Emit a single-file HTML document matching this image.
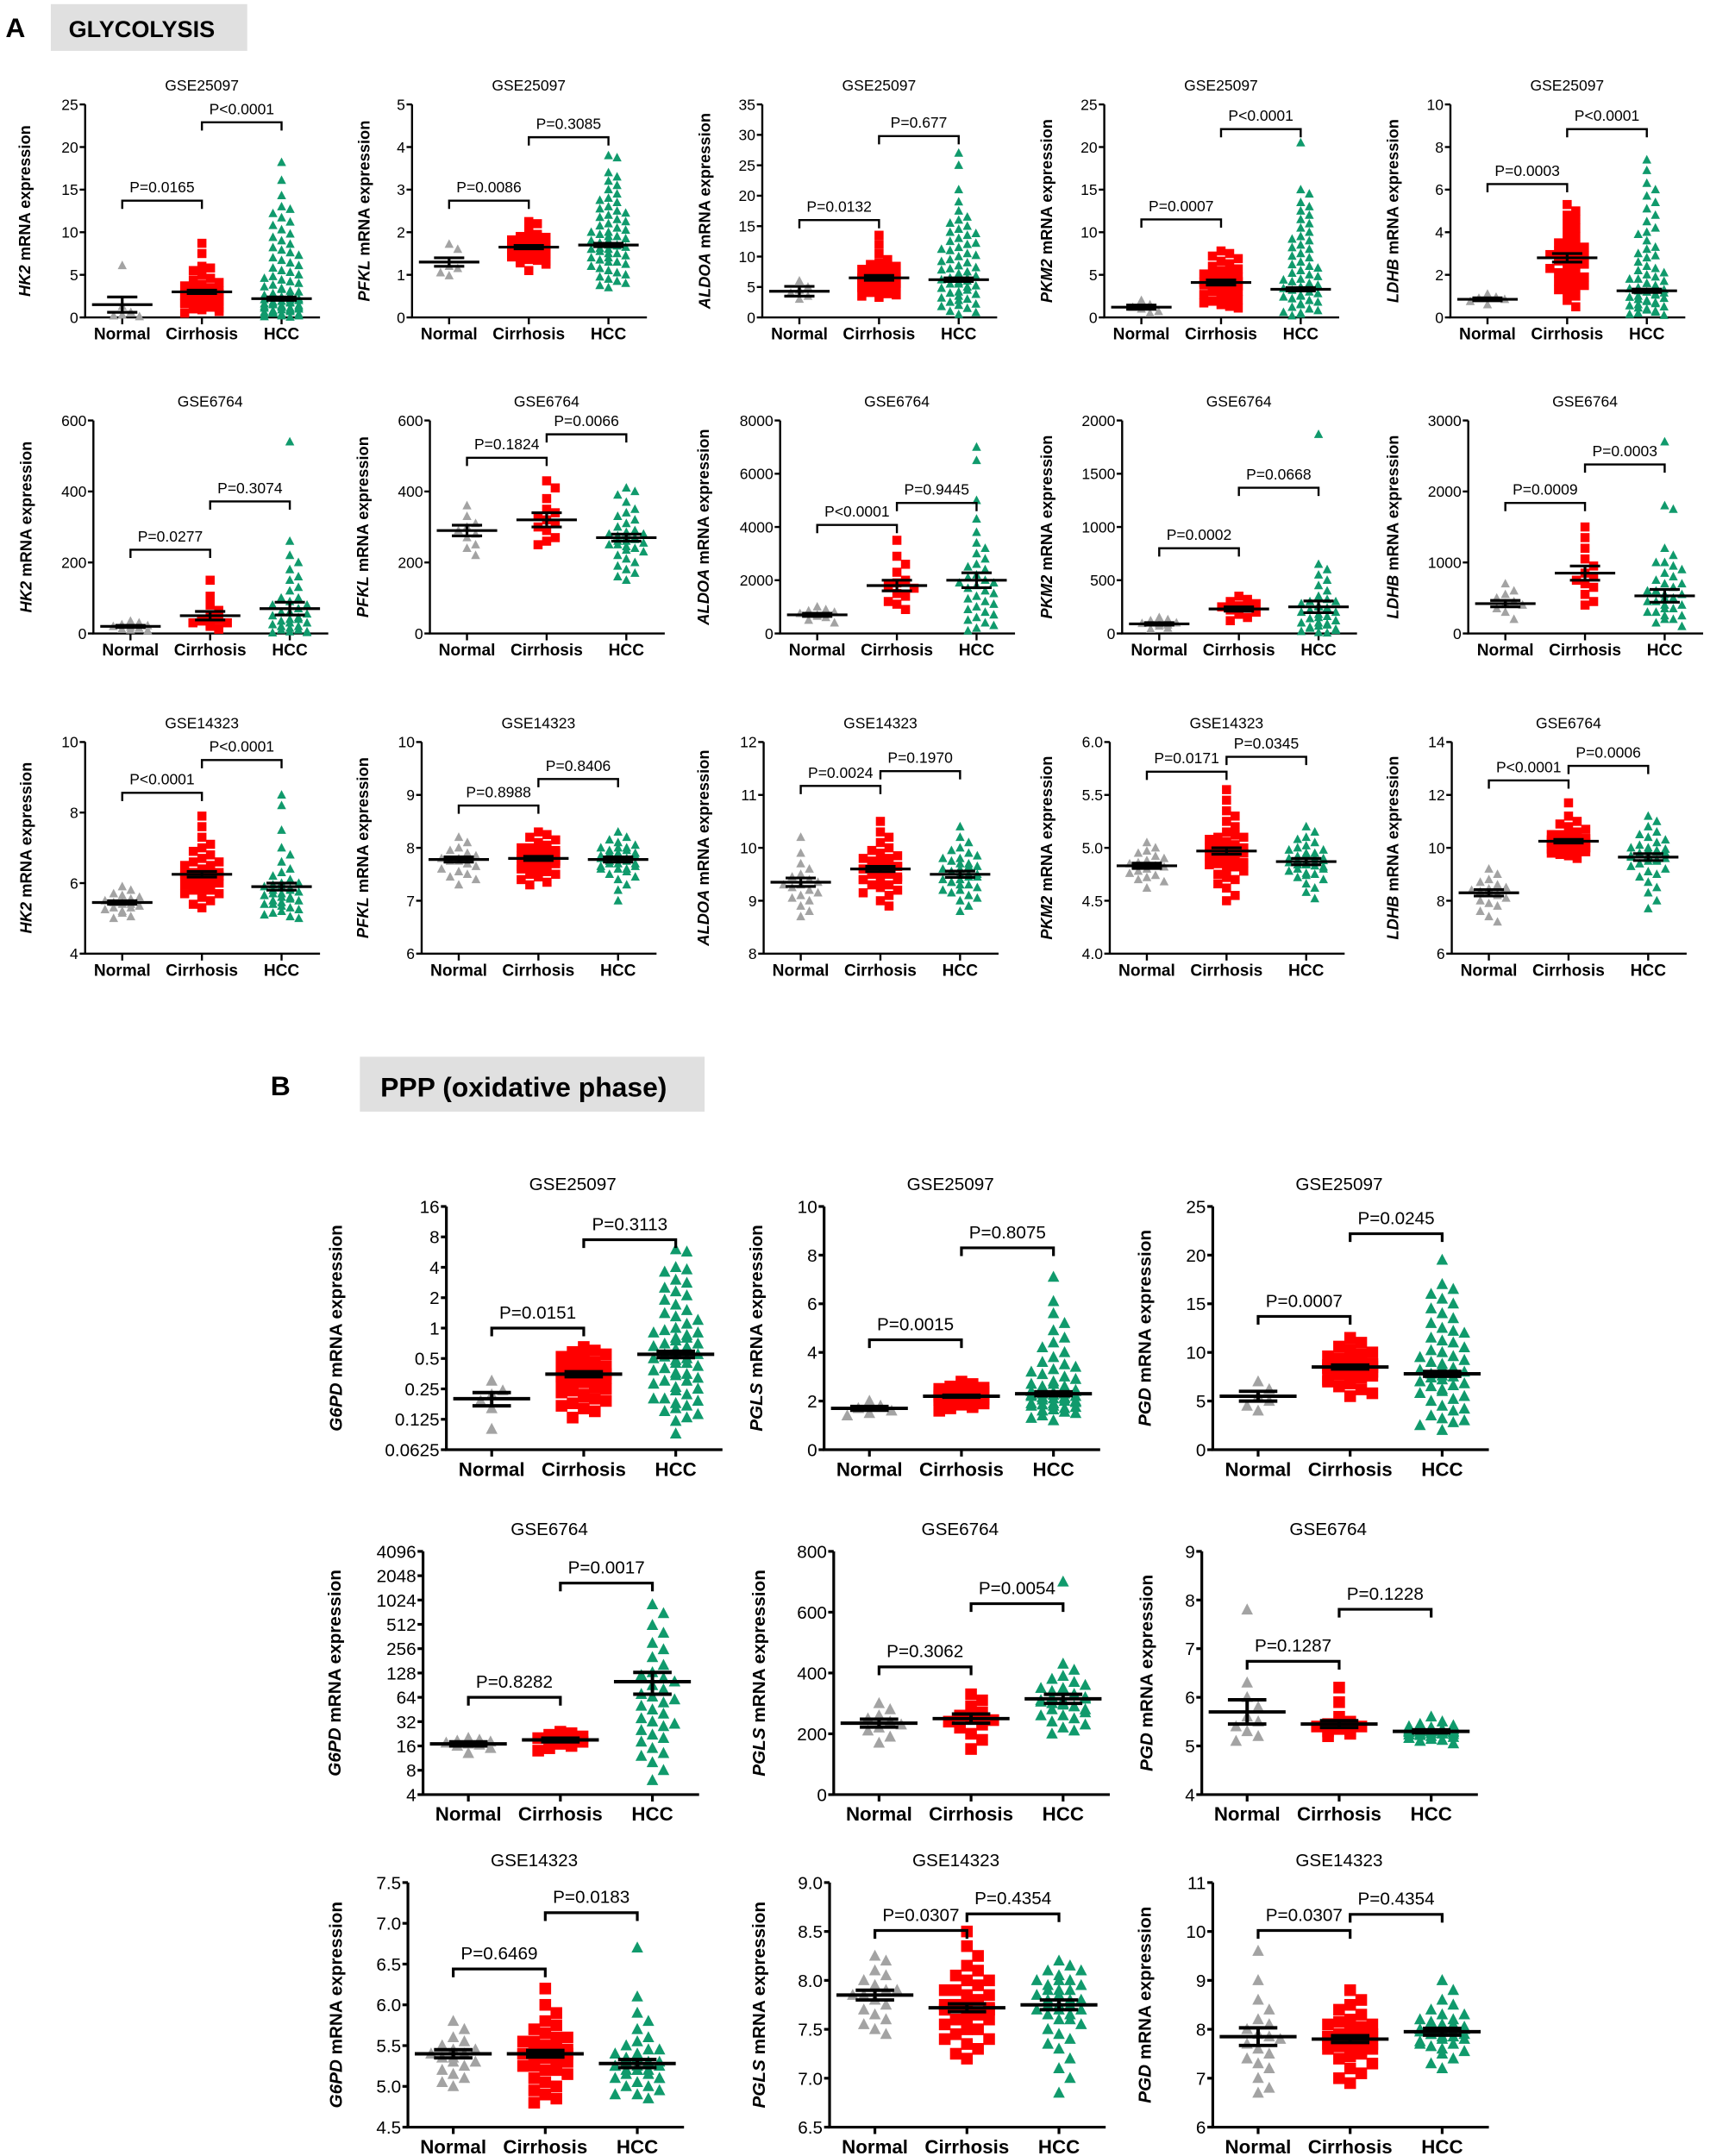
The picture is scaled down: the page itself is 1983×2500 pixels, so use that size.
<!DOCTYPE html>
<html><head><meta charset="utf-8">
<style>
html,body{margin:0;padding:0;background:#fff;}
svg{display:block;font-family:"Liberation Sans",Arial,sans-serif;}
</style></head>
<body>
<svg id="fig" width="1983" height="2500" viewBox="0 0 1245 1569" preserveAspectRatio="none" xmlns="http://www.w3.org/2000/svg">
<rect x="0" y="0" width="1245" height="1569" fill="#fff"/>
<text x="4" y="27" font-size="20" font-weight="bold">A</text>
<rect x="37" y="3" width="143" height="34" fill="#e0e0e0"/>
<text x="50" y="27" font-size="17" font-weight="bold">GLYCOLYSIS</text>
<text x="197" y="797" font-size="20" font-weight="bold">B</text>
<rect x="262" y="769" width="251" height="40" fill="#e0e0e0"/>
<text x="277" y="798" font-size="20" font-weight="bold">PPP (oxidative phase)</text>
<g id="charts"></g>
</svg>
<script>
const categories=["Normal","Cirrhosis","HCC"];
// ---- A row 1 GSE25097
const p1_normal=[6.1,1.3,0.6,0.3,0.2,0.1];
const p1_cirrhosis=[8.7,7.5,6.0,5.8,5.5,5.0,4.6,4.4,4.1,3.9,3.7,3.5,3.4,3.3,3.2,3.1,3.0,2.9,2.8,2.7,2.6,2.5,2.4,2.3,2.2,2.1,2.0,1.9,1.8,1.7,1.6,1.5,1.4,1.3,1.2,1.1,1.0,0.9,0.7,0.5];
const p1_hcc=[18.2,16.1,14.3,13.0,12.7,12.2,11.7,11.2,10.8,10.3,9.8,9.4,9.0,8.6,8.2,7.9,7.6,7.3,7.0,6.7,6.4,6.1,5.8,5.5,5.3,5.0,4.8,4.6,4.4,4.2,4.0,3.8,3.6,3.4,3.3,3.1,3.0,2.8,2.7,2.6,2.5,2.4,2.3,2.2,2.1,2.0,1.9,1.8,1.7,1.6,1.5,1.4,1.3,1.2,1.1,1.0,0.9,0.8,0.7,0.6,0.5,0.4,0.3,0.2,0.1,0.05,0.6,1.1,1.6,2.1,0.3,0.8,1.3,1.8,0.2,0.7,1.2,0.4,0.9,1.4];
const p1_mean=[1.5,3.0,2.2], p1_sem=[0.9,0.2,0.2];
const p1_ticks=["0","5","10","15","20","25"];
const p1_pvals=["P=0.0165","P<0.0001"], p1_pheight=[13.7,22.9];

const p2_normal=[1.72,1.6,1.2,1.15,1.05,0.98];
const p2_cirrhosis=[2.25,2.2,2.05,1.95,1.9,1.88,1.85,1.82,1.8,1.78,1.75,1.72,1.7,1.68,1.66,1.65,1.63,1.62,1.6,1.58,1.56,1.55,1.53,1.5,1.48,1.46,1.44,1.42,1.4,1.38,1.36,1.34,1.32,1.3,1.28,1.25,1.1,1.7,1.6,1.5];
const p2_hcc=[3.8,3.75,3.4,3.3,3.2,3.1,3.0,2.9,2.8,2.75,2.7,2.6,2.55,2.5,2.45,2.4,2.35,2.3,2.25,2.2,2.15,2.1,2.05,2.0,1.95,1.9,1.85,1.8,1.75,1.7,1.68,1.65,1.62,1.6,1.55,1.5,1.45,1.4,1.35,1.3,1.25,1.2,1.15,1.1,1.05,1.0,0.95,0.9,0.85,0.8,0.75,0.7,1.7,1.6,1.5,1.4,1.9,2.0,1.8,1.3];
const p2_mean=[1.3,1.65,1.7], p2_sem=[0.1,0.04,0.04];
const p2_ticks=["0","1","2","3","4","5"];
const p2_pvals=["P=0.0086","P=0.3085"], p2_pheight=[2.74,4.23];

const p3_normal=[6,5,4.5,4,3.5,3];
const p3_cirrhosis=[13.5,12,10.5,9.5,9,8.7,8.4,8.1,7.9,7.7,7.5,7.3,7.1,6.9,6.7,6.5,6.3,6.1,5.9,5.7,5.5,5.3,5.1,4.9,4.7,4.5,4.3,4.1,3.9,3.7,3.5,3.3,6.6,6.2,5.8,7.0,6.4,5.6,5.0,4.4];
const p3_hcc=[27,25,21,19,17.5,16.5,16,15,14.5,14,13.5,13,12.5,12,11.5,11,10.5,10,9.5,9,8.5,8,7.5,7,6.5,6,5.5,5,4.5,4,3.5,3,2.5,2,1.5,1,0.5,6.2,5.8,5.2,4.8,7.2,6.8,8.2,7.8,3.2,3.8,2.8,2.2,9.2,10.2,1.8,5.5,6.5,4.2,12.2,11.2,0.8,13.8,15.5];
const p3_mean=[4.3,6.5,6.2], p3_sem=[0.8,0.4,0.3];
const p3_ticks=["0","5","10","15","20","25","30","35"];
const p3_pvals=["P=0.0132","P=0.677"], p3_pheight=[16,29.8];

const p4_normal=[2.0,1.5,1.2,1.0,0.7,0.5];
const p4_cirrhosis=[7.8,7.5,7.2,6.9,6.6,6.3,6.0,5.7,5.5,5.3,5.1,4.9,4.7,4.5,4.3,4.1,3.9,3.7,3.5,3.3,3.1,2.9,2.7,2.5,2.3,2.1,1.9,1.7,1.5,1.3,1.1,4.0,4.2,3.8,4.4,3.6,4.6,3.4,5.0,3.0];
const p4_hcc=[20.5,15,14.5,13.5,13,12.5,12,11.5,11,10.5,10,9.5,9,8.5,8,7.5,7,6.5,6,5.5,5,4.5,4,3.5,3,2.5,2,1.5,1,0.5,0.2,3.2,2.8,3.8,4.2,2.2,1.8,5.2,4.8,6.2,1.2,0.8,2.6,3.4,7.2,0.4,1.6,2.4,3.6,4.4,5.8,8.2,9.2,0.6];
const p4_mean=[1.2,4.1,3.3], p4_sem=[0.25,0.3,0.2];
const p4_ticks=["0","5","10","15","20","25"];
const p4_pvals=["P=0.0007","P<0.0001"], p4_pheight=[11.5,22.1];

const p5_normal=[1.1,0.95,0.9,0.85,0.75,0.6];
const p5_cirrhosis=[5.3,5.0,4.8,4.6,4.4,4.2,4.0,3.8,3.6,3.4,3.3,3.2,3.1,3.0,2.9,2.8,2.7,2.6,2.5,2.4,2.3,2.2,2.1,2.0,1.9,1.8,1.7,1.6,1.5,1.4,1.3,1.2,1.0,0.8,0.5,2.85,2.75,2.95,2.65,3.5];
const p5_hcc=[7.4,6.9,6.3,6.0,5.7,5.4,5.1,4.8,4.5,4.2,3.9,3.6,3.3,3.0,2.8,2.6,2.4,2.2,2.0,1.9,1.8,1.7,1.6,1.5,1.4,1.3,1.2,1.1,1.0,0.9,0.8,0.7,0.6,0.5,0.4,0.3,0.2,0.1,1.25,1.15,1.05,0.95,0.85,0.75,1.35,1.45,0.65,0.55,2.3,2.1,1.8,0.45,0.35,3.2,2.9,4.0,0.25,0.15,1.6,1.2];
const p5_mean=[0.85,2.8,1.25], p5_sem=[0.07,0.2,0.08];
const p5_ticks=["0","2","4","6","8","10"];
const p5_pvals=["P=0.0003","P<0.0001"], p5_pheight=[6.26,8.84];
// ---- A row 2 GSE6764
const p6_normal=[35,30,25,22,20,18,15,12,10,8];
const p6_cirrhosis=[150,105,80,65,50,40,35,30,25,20,15,12,30];
const p6_hcc=[540,260,220,200,180,160,150,130,120,100,90,80,70,60,55,50,45,40,35,30,25,20,15,10,5,2,60,40,30,20,10,5,3,80,100];
const p6_mean=[20,50,70], p6_sem=[3,12,18];
const p6_ticks=["0","200","400","600"];
const p6_pvals=["P=0.0277","P=0.3074"], p6_pheight=[236,372];

const p7_normal=[360,330,310,300,290,280,270,250,240,220];
const p7_cirrhosis=[430,410,380,350,340,330,320,310,300,290,270,260,250];
const p7_hcc=[410,400,390,370,350,340,330,320,310,300,290,285,280,275,270,265,260,255,250,245,240,235,230,220,210,200,190,180,170,160,150,260,270,250,280];
const p7_mean=[290,320,270], p7_sem=[15,20,10];
const p7_ticks=["0","200","400","600"];
const p7_pvals=["P=0.1824","P=0.0066"], p7_pheight=[495,561];

const p8_normal=[1000,900,850,800,750,700,650,600,500,400];
const p8_cirrhosis=[3500,2900,2600,2300,2000,1900,1800,1700,1500,1400,1200,1100,900];
const p8_hcc=[7000,6500,5000,4300,3800,3400,3200,3000,2800,2600,2400,2200,2000,1900,1800,1700,1600,1500,1400,1300,1200,1100,1000,900,800,700,600,500,400,300,200,100,2100,2500,1900];
const p8_mean=[700,1800,2000], p8_sem=[60,200,280];
const p8_ticks=["0","2000","4000","6000","8000"];
const p8_pvals=["P<0.0001","P=0.9445"], p8_pheight=[4077,4903];

const p9_normal=[150,130,120,100,95,90,80,70,50,40];
const p9_cirrhosis=[350,320,300,280,260,250,240,230,220,200,180,150,120];
const p9_hcc=[1870,650,600,550,500,450,400,350,320,300,280,260,240,220,200,180,160,140,120,100,80,60,40,20,10,5,250,200,150,100,50,300,30,70,90];
const p9_mean=[90,230,250], p9_sem=[12,20,55];
const p9_ticks=["0","500","1000","1500","2000"];
const p9_pvals=["P=0.0002","P=0.0668"], p9_pheight=[800,1368];

const p10_normal=[700,600,550,500,450,420,400,350,300,200];
const p10_cirrhosis=[1500,1350,1200,1050,950,850,800,750,700,650,550,450,400];
const p10_hcc=[2700,1800,1750,1200,1100,1000,950,900,850,800,750,700,650,600,550,500,450,400,350,300,250,200,150,100,500,450,400,350,300,550,600,250,200,700,1000];
const p10_mean=[420,850,530], p10_sem=[45,100,90];
const p10_ticks=["0","1000","2000","3000"];
const p10_pvals=["P=0.0009","P=0.0003"], p10_pheight=[1839,2381];
// ---- A row 3
const p11_normal=[5.9,5.8,5.7,5.65,5.6,5.55,5.5,5.45,5.45,5.4,5.4,5.35,5.3,5.3,5.25,5.2,5.15,5.05,5.0];
const p11_cirrhosis=[7.9,7.6,7.3,7.1,7.0,6.9,6.8,6.7,6.6,6.5,6.5,6.4,6.4,6.3,6.3,6.25,6.2,6.2,6.15,6.1,6.1,6.05,6.0,6.0,5.95,5.9,5.9,5.85,5.8,5.8,5.7,5.7,5.6,5.6,5.5,5.4,5.3,6.3,6.2,6.4,6.6];
const p11_hcc=[8.5,8.2,7.5,7.0,6.8,6.6,6.4,6.3,6.2,6.1,6.0,5.95,5.9,5.85,5.8,5.75,5.7,5.65,5.6,5.55,5.5,5.45,5.4,5.35,5.3,5.25,5.2,5.15,5.1,5.05,5.0,5.9,5.8,5.7,6.0,5.6,5.5,5.4];
const p11_mean=[5.45,6.25,5.9], p11_sem=[0.05,0.08,0.1];
const p11_ticks=["4","6","8","10"];
const p11_pvals=["P<0.0001","P<0.0001"], p11_pheight=[8.56,9.49];

const p12_normal=[8.2,8.1,8.0,7.95,7.9,7.85,7.8,7.8,7.75,7.75,7.7,7.7,7.65,7.6,7.55,7.5,7.45,7.4,7.3];
const p12_cirrhosis=[8.3,8.25,8.2,8.15,8.1,8.05,8.0,8.0,7.95,7.9,7.9,7.85,7.85,7.8,7.8,7.8,7.75,7.75,7.7,7.7,7.65,7.65,7.6,7.6,7.55,7.5,7.5,7.45,7.4,7.35,7.3,7.8,7.9,7.7,7.85,7.75,8.0,7.6,7.95,7.65,7.8];
const p12_hcc=[8.3,8.2,8.15,8.1,8.05,8.0,8.0,7.95,7.9,7.9,7.85,7.85,7.8,7.8,7.8,7.75,7.75,7.7,7.7,7.65,7.6,7.6,7.55,7.5,7.45,7.4,7.3,7.2,7.0,7.8,7.9,7.7,7.85,7.75,8.0,7.6,7.95,7.65];
const p12_mean=[7.78,7.8,7.78], p12_sem=[0.05,0.04,0.05];
const p12_ticks=["6","7","8","9","10"];
const p12_pvals=["P=0.8988","P=0.8406"], p12_pheight=[8.8,9.3];

const p13_normal=[10.2,9.9,9.7,9.6,9.5,9.45,9.4,9.35,9.3,9.3,9.25,9.2,9.15,9.1,9.05,9.0,8.9,8.8,8.7];
const p13_cirrhosis=[10.5,10.3,10.2,10.1,10.0,9.95,9.9,9.85,9.8,9.75,9.7,9.7,9.65,9.6,9.6,9.55,9.55,9.5,9.5,9.45,9.4,9.4,9.35,9.3,9.25,9.2,9.15,9.1,9.0,8.9,9.6,9.7,9.5,9.65,9.55,9.8,9.4,9.75,9.6,9.5,9.3];
const p13_hcc=[10.4,10.2,10.1,10.0,9.95,9.9,9.85,9.8,9.75,9.7,9.65,9.6,9.55,9.5,9.5,9.45,9.4,9.35,9.3,9.25,9.2,9.15,9.1,9.05,9.0,8.9,8.8,9.5,9.6,9.4,9.55,9.45,9.7,9.3,9.65,9.35,9.8,9.2];
const p13_mean=[9.35,9.6,9.5], p13_sem=[0.08,0.05,0.06];
const p13_ticks=["8","9","10","11","12"];
const p13_pvals=["P=0.0024","P=0.1970"], p13_pheight=[11.17,11.45];

const p14_normal=[5.05,5.0,4.97,4.95,4.92,4.9,4.88,4.86,4.85,4.83,4.82,4.8,4.78,4.76,4.74,4.72,4.7,4.68,4.62];
const p14_cirrhosis=[5.55,5.45,5.35,5.3,5.25,5.2,5.15,5.12,5.1,5.08,5.05,5.02,5.0,4.98,4.96,4.95,4.93,4.9,4.88,4.86,4.84,4.82,4.8,4.78,4.75,4.72,4.7,4.66,4.62,4.55,4.5,5.0,4.97,5.03,4.95,4.92,5.06,4.9,5.1,4.85,5.0];
const p14_hcc=[5.2,5.15,5.1,5.08,5.05,5.02,5.0,4.98,4.95,4.93,4.9,4.9,4.88,4.87,4.86,4.85,4.84,4.83,4.82,4.8,4.78,4.76,4.74,4.72,4.7,4.66,4.62,4.58,4.52,4.88,4.9,4.86,4.92,4.84,4.95,4.8,4.98,4.75];
const p14_mean=[4.83,4.97,4.87], p14_sem=[0.025,0.03,0.03];
const p14_ticks=["4.0","4.5","5.0","5.5","6.0"];
const p14_pvals=["P=0.0171","P=0.0345"], p14_pheight=[5.72,5.86];

const p15_normal=[9.2,9.0,8.8,8.7,8.6,8.5,8.45,8.4,8.35,8.3,8.25,8.2,8.1,8.0,7.9,7.8,7.6,7.4,7.2];
const p15_cirrhosis=[11.7,11.2,11.0,10.9,10.8,10.7,10.6,10.5,10.5,10.4,10.4,10.35,10.3,10.3,10.25,10.2,10.2,10.15,10.1,10.1,10.05,10.0,10.0,9.95,9.9,9.9,9.85,9.8,9.75,9.7,9.6,10.3,10.2,10.4,10.1,10.25,10.35,10.15,10.05,10.5,10.0];
const p15_hcc=[11.2,11.0,10.8,10.6,10.5,10.4,10.3,10.2,10.1,10.0,9.95,9.9,9.85,9.8,9.75,9.7,9.65,9.6,9.55,9.5,9.4,9.3,9.2,9.1,9.0,8.9,8.7,8.5,8.3,8.0,7.7,9.7,9.6,9.8,9.5,9.9,9.4,10.0];
const p15_mean=[8.3,10.25,9.65], p15_sem=[0.12,0.07,0.13];
const p15_ticks=["6","8","10","12","14"];
const p15_pvals=["P<0.0001","P=0.0006"], p15_pheight=[12.55,13.1];
// ---- B row 1 GSE25097
const p16_normal=[0.3,0.24,0.22,0.19,0.16,0.1];
const p16_cirrhosis=[0.65,0.6,0.58,0.55,0.52,0.5,0.48,0.46,0.44,0.42,0.4,0.38,0.37,0.36,0.35,0.34,0.33,0.32,0.31,0.3,0.29,0.28,0.27,0.26,0.25,0.24,0.23,0.22,0.21,0.2,0.19,0.18,0.17,0.16,0.15,0.13,0.35,0.3,0.4,0.45];
const p16_hcc=[6,5.7,4,3.8,3.6,3,2.8,2.5,2.3,2.1,1.9,1.7,1.5,1.4,1.3,1.2,1.1,1.0,0.95,0.9,0.85,0.8,0.75,0.7,0.66,0.62,0.58,0.55,0.52,0.5,0.48,0.45,0.42,0.4,0.38,0.36,0.34,0.32,0.3,0.28,0.26,0.24,0.22,0.2,0.19,0.18,0.17,0.16,0.15,0.14,0.13,0.12,0.09,0.6,0.5,0.45,0.7,0.55,0.65,0.4,0.35,0.8,0.3,0.25,0.9,0.2];
const p16_mean=[0.2,0.35,0.55], p16_sem=[0.03,0.02,0.04];
const p16_ticks=["0.0625","0.125","0.25","0.5","1","2","4","8","16"];
const p16_pvals=["P=0.0151","P=0.3113"], p16_pheight=[1.0,7.5];

const p17_normal=[2.0,1.8,1.7,1.6,1.5,1.4];
const p17_cirrhosis=[2.8,2.7,2.6,2.55,2.5,2.45,2.4,2.38,2.35,2.32,2.3,2.28,2.25,2.22,2.2,2.2,2.18,2.15,2.12,2.1,2.08,2.05,2.02,2.0,1.98,1.95,1.9,1.85,1.8,1.75,1.7,1.6,2.2,2.25,2.15,2.3,2.1,2.35,2.05,2.4];
const p17_hcc=[7.1,6.1,5.6,5.2,4.9,4.6,4.4,4.2,4.0,3.8,3.6,3.5,3.4,3.3,3.2,3.1,3.0,2.9,2.8,2.7,2.6,2.5,2.45,2.4,2.35,2.3,2.25,2.2,2.15,2.1,2.05,2.0,1.95,1.9,1.85,1.8,1.75,1.7,1.65,1.6,1.55,1.5,1.4,1.3,1.2,2.3,2.2,2.4,2.1,2.5,2.0,2.6,1.9,2.7,1.8,2.25,2.35,2.15];
const p17_mean=[1.7,2.2,2.3], p17_sem=[0.08,0.04,0.08];
const p17_ticks=["0","2","4","6","8","10"];
const p17_pvals=["P=0.0015","P=0.8075"], p17_pheight=[4.52,8.3];

const p18_normal=[7,6.2,5.5,5,4.5,4];
const p18_cirrhosis=[11.5,11.0,10.6,10.3,10.0,9.8,9.6,9.4,9.2,9.0,8.9,8.8,8.7,8.6,8.5,8.4,8.3,8.2,8.1,8.0,7.9,7.8,7.6,7.4,7.2,7.0,6.8,6.5,6.2,5.8,5.5,8.5,8.6,8.4,8.7,8.3,8.8,9.1,7.7,8.0];
const p18_hcc=[19.5,17,16.5,16,15.5,15,14.5,14,13.5,13,12.5,12,11.5,11,10.5,10,9.5,9,8.5,8,7.5,7,6.5,6,5.5,5,4.5,4,3.5,3,2.5,2,7.8,8.2,7.2,6.8,8.8,9.2,5.8,6.2,10.2,4.2,7.4,8.4,11.2,3.2,6.6,9.6,5.2,12.2,2.8,7.6];
const p18_mean=[5.5,8.5,7.8], p18_sem=[0.5,0.2,0.25];
const p18_ticks=["0","5","10","15","20","25"];
const p18_pvals=["P=0.0007","P=0.0245"], p18_pheight=[13.7,22.2];
// ---- B row 2 GSE6764
const p19_normal=[20,19,18.5,18,17.5,17,16.5,16,15,13];
const p19_cirrhosis=[24,23,22,21,20,19,18.5,18,17,16,15,14,19];
const p19_hcc=[900,700,500,400,300,250,200,160,130,110,100,90,80,70,60,55,50,45,40,35,30,28,25,22,20,18,15,13,12,10,8,6,120,65,32];
const p19_mean=[17,19,100], p19_sem=[1,1,30];
const p19_ticks=["4","8","16","32","64","128","256","512","1024","2048","4096"];
const p19_pvals=["P=0.8282","P=0.0017"], p19_pheight=[64,1660];

const p20_normal=[300,280,260,250,240,230,220,210,190,170];
const p20_cirrhosis=[330,310,290,270,260,250,245,240,230,220,200,180,150];
const p20_hcc=[700,430,410,390,380,370,360,350,340,330,320,315,310,305,300,295,290,280,270,260,250,240,230,220,210,200,320,330,310,300,340,290,280,350,260];
const p20_mean=[235,250,315], p20_sem=[13,15,15];
const p20_ticks=["0","200","400","600","800"];
const p20_pvals=["P=0.3062","P=0.0054"], p20_pheight=[420,628];

const p21_normal=[7.8,6.3,6.0,5.8,5.6,5.5,5.4,5.3,5.2,5.1];
const p21_cirrhosis=[6.2,5.9,5.6,5.5,5.45,5.4,5.4,5.35,5.35,5.3,5.3,5.25,5.2];
const p21_hcc=[5.6,5.5,5.45,5.42,5.4,5.38,5.36,5.35,5.34,5.33,5.32,5.31,5.3,5.3,5.29,5.28,5.27,5.26,5.25,5.24,5.23,5.22,5.2,5.18,5.16,5.14,5.12,5.1,5.05,5.3,5.32,5.28,5.35,5.25,5.3];
const p21_mean=[5.7,5.45,5.3], p21_sem=[0.25,0.07,0.03];
const p21_ticks=["4","5","6","7","8","9"];
const p21_pvals=["P=0.1287","P=0.1228"], p21_pheight=[6.74,7.81];
// ---- B row 3 GSE14323
const p22_normal=[5.8,5.7,5.6,5.55,5.5,5.45,5.45,5.4,5.4,5.35,5.35,5.3,5.3,5.25,5.2,5.15,5.1,5.05,5.0];
const p22_cirrhosis=[6.2,6.0,5.9,5.8,5.75,5.7,5.65,5.6,5.55,5.5,5.5,5.45,5.45,5.4,5.4,5.35,5.35,5.3,5.3,5.25,5.2,5.2,5.15,5.1,5.05,5.0,4.95,4.9,4.85,4.8,5.4,5.45,5.35,5.5,5.3,5.55,5.25,5.6,5.2,5.4,5.4];
const p22_hcc=[6.7,6.1,5.9,5.8,5.7,5.6,5.55,5.5,5.45,5.4,5.35,5.3,5.3,5.25,5.25,5.2,5.2,5.15,5.1,5.1,5.05,5.0,5.0,4.95,4.9,4.9,4.85,5.3,5.25,5.35,5.2,5.4,5.15,5.45,5.1,5.3,5.2,5.25];
const p22_mean=[5.4,5.4,5.28], p22_sem=[0.05,0.04,0.05];
const p22_ticks=["4.5","5.0","5.5","6.0","6.5","7.0","7.5"];
const p22_pvals=["P=0.6469","P=0.0183"], p22_pheight=[6.44,7.13];

const p23_normal=[8.25,8.2,8.1,8.05,8.0,7.95,7.9,7.9,7.85,7.85,7.8,7.8,7.75,7.7,7.65,7.6,7.55,7.5,7.45];
const p23_cirrhosis=[8.5,8.35,8.25,8.15,8.05,8.0,7.95,7.9,7.85,7.8,7.8,7.75,7.75,7.7,7.7,7.65,7.65,7.6,7.6,7.55,7.5,7.5,7.45,7.4,7.35,7.3,7.25,7.2,7.7,7.75,7.8,7.65,7.9,7.6,8.1,7.55,7.85,7.7,8.0,7.4,7.72];
const p23_hcc=[8.2,8.15,8.1,8.1,8.05,8.0,8.0,7.95,7.9,7.9,7.85,7.8,7.8,7.75,7.7,7.7,7.65,7.6,7.55,7.5,7.45,7.4,7.35,7.3,7.2,7.1,7.0,6.85,7.8,7.75,7.9,7.7,7.85,7.65,8.0,7.6,7.95,7.75];
const p23_mean=[7.85,7.72,7.75], p23_sem=[0.05,0.04,0.05];
const p23_ticks=["6.5","7.0","7.5","8.0","8.5","9.0"];
const p23_pvals=["P=0.0307","P=0.4354"], p23_pheight=[8.51,8.68];

const p24_normal=[9.6,9.0,8.6,8.4,8.2,8.1,8.0,7.9,7.85,7.8,7.7,7.6,7.5,7.4,7.3,7.2,7.0,6.8,6.7];
const p24_cirrhosis=[8.8,8.6,8.5,8.4,8.3,8.2,8.15,8.1,8.05,8.0,7.95,7.9,7.9,7.85,7.85,7.8,7.8,7.75,7.75,7.7,7.7,7.65,7.6,7.55,7.5,7.45,7.4,7.3,7.2,7.1,7.0,6.9,7.8,7.9,7.7,8.0,7.6,8.1,7.5,7.85,7.75];
const p24_hcc=[9.0,8.8,8.6,8.5,8.4,8.3,8.2,8.15,8.1,8.05,8.0,8.0,7.95,7.9,7.9,7.85,7.8,7.75,7.7,7.65,7.6,7.55,7.5,7.4,7.3,7.2,8.0,7.95,8.1,7.9,8.2,7.85,8.3,7.8,7.7,8.05,7.95,8.0];
const p24_mean=[7.85,7.8,7.95], p24_sem=[0.18,0.07,0.07];
const p24_ticks=["6","7","8","9","10","11"];
const p24_pvals=["P=0.0307","P=0.4354"], p24_pheight=[10.02,10.35];

const panels=[
 {id:"hk2-gse25097",gene:"HK2",title:"GSE25097",vals:[p1_normal,p1_cirrhosis,p1_hcc],mean:p1_mean,sem:p1_sem,ticks:p1_ticks,pv:p1_pvals,ph:p1_pheight,ax:62,top:76,bot:231,lx:-40,big:false},
 {id:"pfkl-gse25097",gene:"PFKL",title:"GSE25097",vals:[p2_normal,p2_cirrhosis,p2_hcc],mean:p2_mean,sem:p2_sem,ticks:p2_ticks,pv:p2_pvals,ph:p2_pheight,ax:300,top:76,bot:231,lx:-31,big:false},
 {id:"aldoa-gse25097",gene:"ALDOA",title:"GSE25097",vals:[p3_normal,p3_cirrhosis,p3_hcc],mean:p3_mean,sem:p3_sem,ticks:p3_ticks,pv:p3_pvals,ph:p3_pheight,ax:555,top:76,bot:231,lx:-38,big:false},
 {id:"pkm2-gse25097",gene:"PKM2",title:"GSE25097",vals:[p4_normal,p4_cirrhosis,p4_hcc],mean:p4_mean,sem:p4_sem,ticks:p4_ticks,pv:p4_pvals,ph:p4_pheight,ax:804,top:76,bot:231,lx:-38,big:false},
 {id:"ldhb-gse25097",gene:"LDHB",title:"GSE25097",vals:[p5_normal,p5_cirrhosis,p5_hcc],mean:p5_mean,sem:p5_sem,ticks:p5_ticks,pv:p5_pvals,ph:p5_pheight,ax:1056,top:76,bot:231,lx:-38,big:false},
 {id:"hk2-gse6764",gene:"HK2",title:"GSE6764",vals:[p6_normal,p6_cirrhosis,p6_hcc],mean:p6_mean,sem:p6_sem,ticks:p6_ticks,pv:p6_pvals,ph:p6_pheight,ax:68,top:306,bot:461,lx:-45,big:false},
 {id:"pfkl-gse6764",gene:"PFKL",title:"GSE6764",vals:[p7_normal,p7_cirrhosis,p7_hcc],mean:p7_mean,sem:p7_sem,ticks:p7_ticks,pv:p7_pvals,ph:p7_pheight,ax:313,top:306,bot:461,lx:-45,big:false},
 {id:"aldoa-gse6764",gene:"ALDOA",title:"GSE6764",vals:[p8_normal,p8_cirrhosis,p8_hcc],mean:p8_mean,sem:p8_sem,ticks:p8_ticks,pv:p8_pvals,ph:p8_pheight,ax:568,top:306,bot:461,lx:-52,big:false},
 {id:"pkm2-gse6764",gene:"PKM2",title:"GSE6764",vals:[p9_normal,p9_cirrhosis,p9_hcc],mean:p9_mean,sem:p9_sem,ticks:p9_ticks,pv:p9_pvals,ph:p9_pheight,ax:817,top:306,bot:461,lx:-51,big:false},
 {id:"ldhb-gse6764",gene:"LDHB",title:"GSE6764",vals:[p10_normal,p10_cirrhosis,p10_hcc],mean:p10_mean,sem:p10_sem,ticks:p10_ticks,pv:p10_pvals,ph:p10_pheight,ax:1069,top:306,bot:461,lx:-51,big:false},
 {id:"hk2-gse14323",gene:"HK2",title:"GSE14323",vals:[p11_normal,p11_cirrhosis,p11_hcc],mean:p11_mean,sem:p11_sem,ticks:p11_ticks,pv:p11_pvals,ph:p11_pheight,ax:62,top:540,bot:694,lx:-39,big:false},
 {id:"pfkl-gse14323",gene:"PFKL",title:"GSE14323",vals:[p12_normal,p12_cirrhosis,p12_hcc],mean:p12_mean,sem:p12_sem,ticks:p12_ticks,pv:p12_pvals,ph:p12_pheight,ax:307,top:540,bot:694,lx:-39,big:false},
 {id:"aldoa-gse14323",gene:"ALDOA",title:"GSE14323",vals:[p13_normal,p13_cirrhosis,p13_hcc],mean:p13_mean,sem:p13_sem,ticks:p13_ticks,pv:p13_pvals,ph:p13_pheight,ax:556,top:540,bot:694,lx:-40,big:false},
 {id:"pkm2-gse14323",gene:"PKM2",title:"GSE14323",vals:[p14_normal,p14_cirrhosis,p14_hcc],mean:p14_mean,sem:p14_sem,ticks:p14_ticks,pv:p14_pvals,ph:p14_pheight,ax:808,top:540,bot:694,lx:-42,big:false},
 {id:"ldhb-gse6764-b",gene:"LDHB",title:"GSE6764",vals:[p15_normal,p15_cirrhosis,p15_hcc],mean:p15_mean,sem:p15_sem,ticks:p15_ticks,pv:p15_pvals,ph:p15_pheight,ax:1057,top:540,bot:694,lx:-39,big:false},
 {id:"g6pd-gse25097",gene:"G6PD",title:"GSE25097",vals:[p16_normal,p16_cirrhosis,p16_hcc],mean:p16_mean,sem:p16_sem,ticks:p16_ticks,pv:p16_pvals,ph:p16_pheight,ax:325,top:878,bot:1055,lx:-76,big:true,log:true},
 {id:"pgls-gse25097",gene:"PGLS",title:"GSE25097",vals:[p17_normal,p17_cirrhosis,p17_hcc],mean:p17_mean,sem:p17_sem,ticks:p17_ticks,pv:p17_pvals,ph:p17_pheight,ax:600,top:878,bot:1055,lx:-45,big:true},
 {id:"pgd-gse25097",gene:"PGD",title:"GSE25097",vals:[p18_normal,p18_cirrhosis,p18_hcc],mean:p18_mean,sem:p18_sem,ticks:p18_ticks,pv:p18_pvals,ph:p18_pheight,ax:883,top:878,bot:1055,lx:-45,big:true},
 {id:"g6pd-gse6764",gene:"G6PD",title:"GSE6764",vals:[p19_normal,p19_cirrhosis,p19_hcc],mean:p19_mean,sem:p19_sem,ticks:p19_ticks,pv:p19_pvals,ph:p19_pheight,ax:308,top:1129,bot:1306,lx:-60,big:true,log:true},
 {id:"pgls-gse6764",gene:"PGLS",title:"GSE6764",vals:[p20_normal,p20_cirrhosis,p20_hcc],mean:p20_mean,sem:p20_sem,ticks:p20_ticks,pv:p20_pvals,ph:p20_pheight,ax:607,top:1129,bot:1306,lx:-50,big:true},
 {id:"pgd-gse6764",gene:"PGD",title:"GSE6764",vals:[p21_normal,p21_cirrhosis,p21_hcc],mean:p21_mean,sem:p21_sem,ticks:p21_ticks,pv:p21_pvals,ph:p21_pheight,ax:875,top:1129,bot:1306,lx:-36,big:true},
 {id:"g6pd-gse14323",gene:"G6PD",title:"GSE14323",vals:[p22_normal,p22_cirrhosis,p22_hcc],mean:p22_mean,sem:p22_sem,ticks:p22_ticks,pv:p22_pvals,ph:p22_pheight,ax:297,top:1370,bot:1548,lx:-48,big:true},
 {id:"pgls-gse14323",gene:"PGLS",title:"GSE14323",vals:[p23_normal,p23_cirrhosis,p23_hcc],mean:p23_mean,sem:p23_sem,ticks:p23_ticks,pv:p23_pvals,ph:p23_pheight,ax:604,top:1370,bot:1548,lx:-47,big:true},
 {id:"pgd-gse14323",gene:"PGD",title:"GSE14323",vals:[p24_normal,p24_cirrhosis,p24_hcc],mean:p24_mean,sem:p24_sem,ticks:p24_ticks,pv:p24_pvals,ph:p24_pheight,ax:883,top:1370,bot:1548,lx:-45,big:true}
];
const NS="http://www.w3.org/2000/svg";
const colors=["#a3a3a3","#ff0000","#109a6c"];
const root=document.getElementById("charts");
function mk(tag,attrs,parent){const e=document.createElementNS(NS,tag);for(const k in attrs)e.setAttribute(k,attrs[k]);parent.appendChild(e);return e;}
panels.forEach(p=>{
 const g=mk("g",{},root);
 
 
 const big=p.big;
 const dx=big?67:58, off=big?33:27, hw=big?28:22, s=big?8.5:6.6;
 const fs=big?13:11, cfs=big?14:12, lw=big?2:1.5;
 const cx=[0,1,2].map(i=>p.ax+off+i*dx);
 const tv=p.ticks.map(Number);
 const lo=tv[0], hi=tv[tv.length-1];
 const yS=v=>p.log? p.bot-(Math.log2(v)-Math.log2(lo))/(Math.log2(hi)-Math.log2(lo))*(p.bot-p.top)
                   : p.bot-(v-lo)/(hi-lo)*(p.bot-p.top);
 const xEnd=cx[2]+hw+6;
 const ya=mk("line",{x1:p.ax,y1:p.top,x2:p.ax,y2:p.bot,stroke:"#000","stroke-width":lw},g);
 
 
 const xa=mk("line",{x1:p.ax-lw/2,y1:p.bot,x2:xEnd,y2:p.bot,stroke:"#000","stroke-width":lw},g);
 
 
 p.ticks.forEach((t,i)=>{
  const y=yS(tv[i]);
  mk("line",{x1:p.ax-4,y1:y,x2:p.ax,y2:y,stroke:"#000","stroke-width":lw},g);
  const tx=mk("text",{x:p.ax-5,y:y+fs*0.36,"font-size":fs,"text-anchor":"end"},g);
  tx.textContent=t;
  
  
 });
 categories.forEach((c,i)=>{
  mk("line",{x1:cx[i],y1:p.bot,x2:cx[i],y2:p.bot+5,stroke:"#000","stroke-width":lw},g);
  const tx=mk("text",{x:cx[i],y:p.bot+(big?19:16),"font-size":cfs,"font-weight":"bold","text-anchor":"middle"},g);
  tx.textContent=c;
  
  
 });
 const tt=mk("text",{x:cx[1]-(big?8:0),y:p.top-(big?12:10),"font-size":fs,"text-anchor":"middle"},g);
 tt.textContent=p.title;
 
 
 const ly=(p.top+p.bot)/2, lxx=p.ax+p.lx;
 const yl=mk("text",{x:lxx,y:ly,"font-size":big?13:11.5,"font-weight":"bold","text-anchor":"middle",transform:`rotate(-90 ${lxx} ${ly})`},g);
 
 
 const ts=mk("tspan",{"font-style":"italic"},yl); ts.textContent=p.gene;
 const ts2=mk("tspan",{},yl); ts2.textContent=" mRNA expression";
 p.vals.forEach((arr,gi)=>{
  const pts=[];
  const sorted=arr.slice().sort((a,b)=>b-a);
  const sw=hw*0.9;
  sorted.forEach(v=>{
   const y=yS(v);
   let best=0,bestC=1e9;
   for(let k=0;k<=12;k++){
    const cands=k===0?[0]:[k*s*0.95,-k*s*0.95];
    for(const o of cands){
     if(Math.abs(o)>sw-2) continue;
     let c=0;
     for(const q of pts){ if(Math.abs(q[0]-o)<s*0.92 && Math.abs(q[1]-y)<s*0.92) c++; }
     if(c===0){best=o;bestC=0;break;}
     if(c<bestC){bestC=c;best=o;}
    }
    if(bestC===0)break;
   }
   pts.push([best,y]);
  });
  pts.forEach(([o,y])=>{
   const x=cx[gi]+o;
   let m;
   if(gi===1){
    m=mk("rect",{x:x-s/2,y:y-s/2,width:s,height:s,fill:colors[gi]},g);
   } else {
    const h=s*0.9;
    m=mk("polygon",{points:`${x},${y-h*0.6} ${x-s/2},${y+h*0.45} ${x+s/2},${y+h*0.45}`,fill:colors[gi]},g);
   }
   
   
  });
 });
 p.vals.forEach((arr,gi)=>{
  const ym=yS(p.mean[gi]), yu=yS(p.mean[gi]+p.sem[gi]), yd=yS(Math.max(p.mean[gi]-p.sem[gi],p.log?lo*1.01:-1e9));
  const mw=1.0;
  const gg=mk("g",{stroke:"#000","stroke-width":big?2.5:2},g);
  
  
  mk("line",{x1:cx[gi]-hw*mw,y1:ym,x2:cx[gi]+hw*mw,y2:ym},gg);
  mk("line",{x1:cx[gi]-hw*0.5,y1:yu,x2:cx[gi]+hw*0.5,y2:yu},gg);
  mk("line",{x1:cx[gi]-hw*0.5,y1:yd,x2:cx[gi]+hw*0.5,y2:yd},gg);
  mk("line",{x1:cx[gi],y1:yu,x2:cx[gi],y2:yd},gg);
 });
 p.pv.forEach((lab,bi)=>{
  const y=yS(p.ph[bi]);
  const x1=cx[bi], x2=cx[bi+1];
  const br=mk("path",{d:`M${x1},${y+6} L${x1},${y} L${x2},${y} L${x2},${y+6}`,fill:"none",stroke:"#000","stroke-width":big?2:1.5},g);
  
  
  const t=mk("text",{x:(x1+x2)/2,y:y-(big?7:6),"font-size":fs,"text-anchor":"middle"},g);
  t.textContent=lab;
  
  
 });
});
</script>
</body></html>
